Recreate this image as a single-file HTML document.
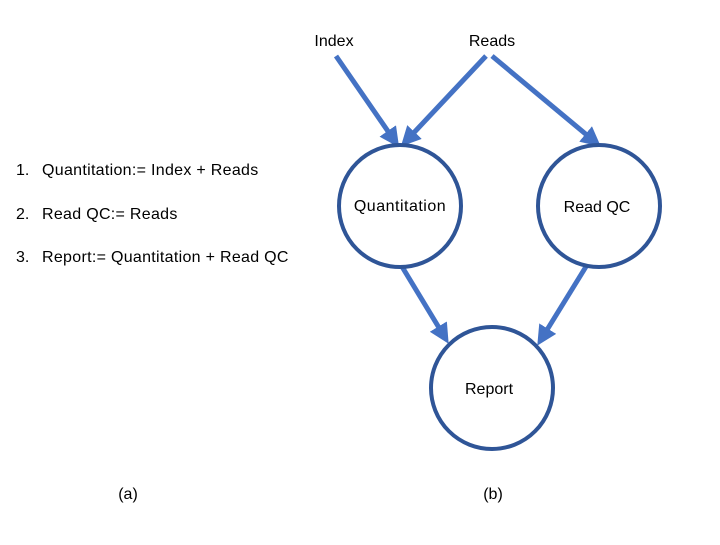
<!DOCTYPE html>
<html><head><style>
body{margin:0;background:#fff;}
svg text{font-family:"Liberation Sans",sans-serif;font-size:16px;fill:#000;}
</style></head><body>
<svg width="720" height="540" viewBox="0 0 720 540">
<defs>
<marker id="a" markerWidth="4" markerHeight="4" refX="2.2" refY="2" orient="auto" markerUnits="strokeWidth">
<path d="M0,0 L4,2 L0,4 z" fill="#4472C4"/></marker>
</defs>
<g stroke="#4472C4" stroke-width="5" fill="none" marker-end="url(#a)">
<line x1="336" y1="56" x2="394" y2="140"/>
<line x1="486" y1="56" x2="407" y2="140"/>
<line x1="492" y1="56" x2="594" y2="141"/>
<line x1="401" y1="265" x2="444" y2="336"/>
<line x1="587" y1="265" x2="542" y2="338"/>
</g>
<g stroke="#2F5597" stroke-width="4" fill="#fff">
<circle cx="400" cy="206" r="61"/>
<circle cx="599" cy="206" r="61"/>
<circle cx="492" cy="388" r="61"/>
</g>
<text x="334" y="46" text-anchor="middle">Index</text>
<text x="492" y="46" text-anchor="middle">Reads</text>
<text x="400" y="211" text-anchor="middle" letter-spacing="0.5">Quantitation</text>
<text x="597" y="212" text-anchor="middle">Read QC</text>
<text x="489" y="394" text-anchor="middle">Report</text>
<text x="16" y="175">1.</text><text x="42" y="175" letter-spacing="0.3">Quantitation:= Index + Reads</text>
<text x="16" y="219">2.</text><text x="42" y="219" letter-spacing="0.3">Read QC:= Reads</text>
<text x="16" y="262">3.</text><text x="42" y="262" letter-spacing="0.3">Report:= Quantitation + Read QC</text>
<text x="128" y="499" text-anchor="middle">(a)</text>
<text x="493" y="499" text-anchor="middle">(b)</text>
</svg>
</body></html>
